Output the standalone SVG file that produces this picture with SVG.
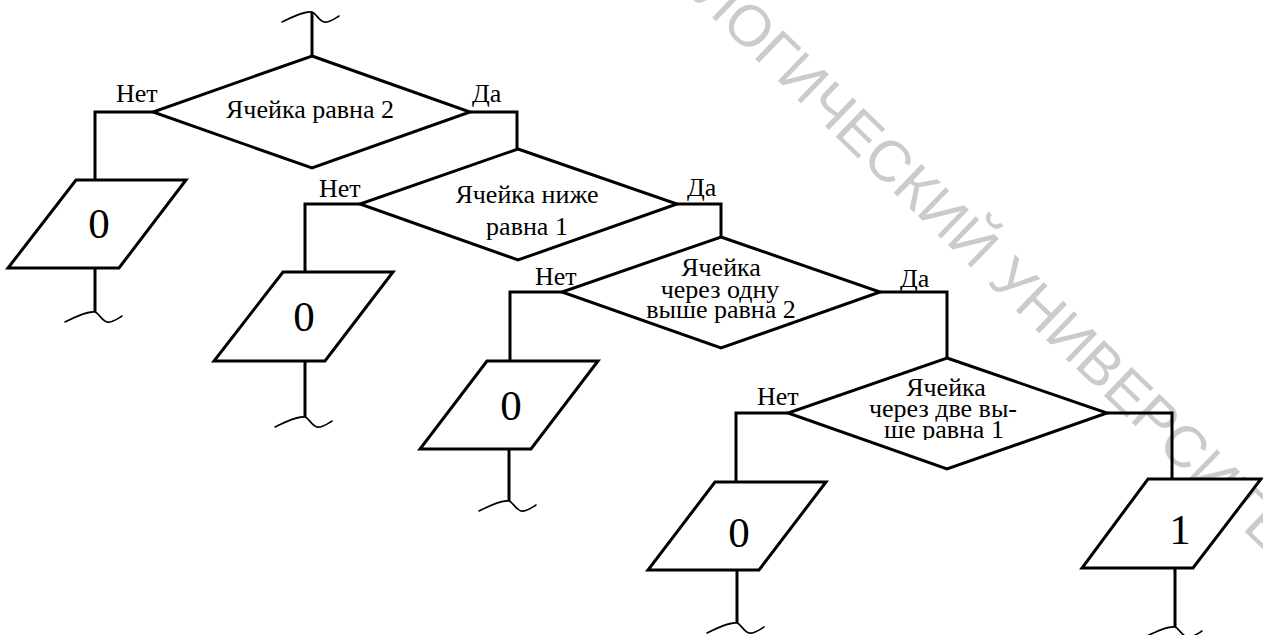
<svg xmlns="http://www.w3.org/2000/svg" width="1263" height="635" viewBox="0 0 1263 635">
  <style>
    .shape { fill: #ffffff; stroke: #000000; stroke-width: 3; stroke-linejoin: miter; }
    .wire { fill: none; stroke: #000000; stroke-width: 3; stroke-linejoin: miter; }
    .brk { fill: none; stroke: #000000; stroke-width: 1.6; stroke-linecap: round; }
    .lbl { font-family: "Liberation Serif", "Times New Roman", serif; font-size: 26px; fill: #000000; }
    .cond { font-family: "Liberation Serif", "Times New Roman", serif; font-size: 26px; fill: #000000; text-anchor: middle; }
    .val { font-family: "Liberation Serif", "Times New Roman", serif; font-size: 43px; fill: #000000; text-anchor: middle; }
    .wm { font-family: "Liberation Sans", Arial, sans-serif; font-size: 58px; fill: #cbcbcb; }
  </style>
  <defs>
    <!-- break mark drawn at the open end of a flow line -->
    <path id="brk" d="M-30,10 C-20,5 -8,-1 0,0 C4,1 6,8 12,10 C17,11 22,7 27,4"/>
    <clipPath id="clipD4">
      <rect x="860" y="360" width="180" height="80"/>
    </clipPath>
  </defs>

  <rect x="0" y="0" width="1263" height="635" fill="#ffffff"/>

  <g id="watermark">
    <text class="wm" transform="translate(692,-2) rotate(44)">ЛОГИЧЕСКИЙ УНИВЕРСИТЕТ</text>
  </g>

  <g id="connectors">
    <path class="wire" d="M312,12 V56"/>
    <use href="#brk" class="brk" x="312" y="12"/>
    <path class="wire" d="M153,112 H95 V180"/>
    <path class="wire" d="M470,112 H517 V149"/>
    <path class="wire" d="M95,268 V312"/>
    <use href="#brk" class="brk" x="95" y="312"/>
    <path class="wire" d="M360,204 H305 V272"/>
    <path class="wire" d="M677,204 H721 V237"/>
    <path class="wire" d="M305,361 V417"/>
    <use href="#brk" class="brk" x="305" y="417"/>
    <path class="wire" d="M562,292 H510 V361"/>
    <path class="wire" d="M880,292 H947 V358"/>
    <path class="wire" d="M509,449 V501"/>
    <use href="#brk" class="brk" x="509" y="501"/>
    <path class="wire" d="M788,413 H736 V482"/>
    <path class="wire" d="M1107,413 H1172 V479"/>
    <path class="wire" d="M737,570 V623"/>
    <use href="#brk" class="brk" x="737" y="623"/>
    <path class="wire" d="M1175,568 V627"/>
    <use href="#brk" class="brk" x="1175" y="627"/>

    <text class="lbl" x="116" y="102">Нет</text>
    <text class="lbl" x="472" y="102">Да</text>
    <text class="lbl" x="319" y="197">Нет</text>
    <text class="lbl" x="687" y="196">Да</text>
    <text class="lbl" x="535" y="285">Нет</text>
    <text class="lbl" x="900" y="287">Да</text>
    <text class="lbl" x="757" y="405">Нет</text>
  </g>

  <g id="d1">
    <polygon class="shape" points="312,56 470,112 312,168 153,112"/>
    <text class="cond" x="310" y="118">Ячейка равна 2</text>
  </g>

  <g id="d2">
    <polygon class="shape" points="518,149 677,204 518,260 360,204"/>
    <text class="cond" x="527" y="203">Ячейка ниже</text>
    <text class="cond" x="527" y="235">равна 1</text>
  </g>

  <g id="d3">
    <polygon class="shape" points="721,237 880,292 721,348 562,292"/>
    <text class="cond" x="721" y="276">Ячейка</text>
    <text class="cond" x="720" y="298">через одну</text>
    <text class="cond" x="721" y="318">выше равна 2</text>
  </g>

  <g id="d4">
    <polygon class="shape" points="947,358 1107,413 947,469 788,413"/>
    <g clip-path="url(#clipD4)">
      <text class="cond" x="946" y="396">Ячейка</text>
      <text class="cond" x="943" y="417">через две вы-</text>
      <text class="cond" x="944" y="438">ше равна 1</text>
    </g>
  </g>

  <g id="p1">
    <polygon class="shape" points="76,180 186,180 119,268 8,268"/>
    <text class="val" x="99" y="238">0</text>
  </g>

  <g id="p2">
    <polygon class="shape" points="283,272 393,272 325,361 214,361"/>
    <text class="val" x="304" y="331">0</text>
  </g>

  <g id="p3">
    <polygon class="shape" points="487,361 598,361 531,449 420,449"/>
    <text class="val" x="511" y="420">0</text>
  </g>

  <g id="p4">
    <polygon class="shape" points="715,482 826,482 759,570 648,570"/>
    <text class="val" x="739" y="547">0</text>
  </g>

  <g id="p5">
    <polygon class="shape" points="1148,479 1261,479 1193,568 1082,568"/>
    <text class="val" x="1180" y="544">1</text>
  </g>
</svg>
